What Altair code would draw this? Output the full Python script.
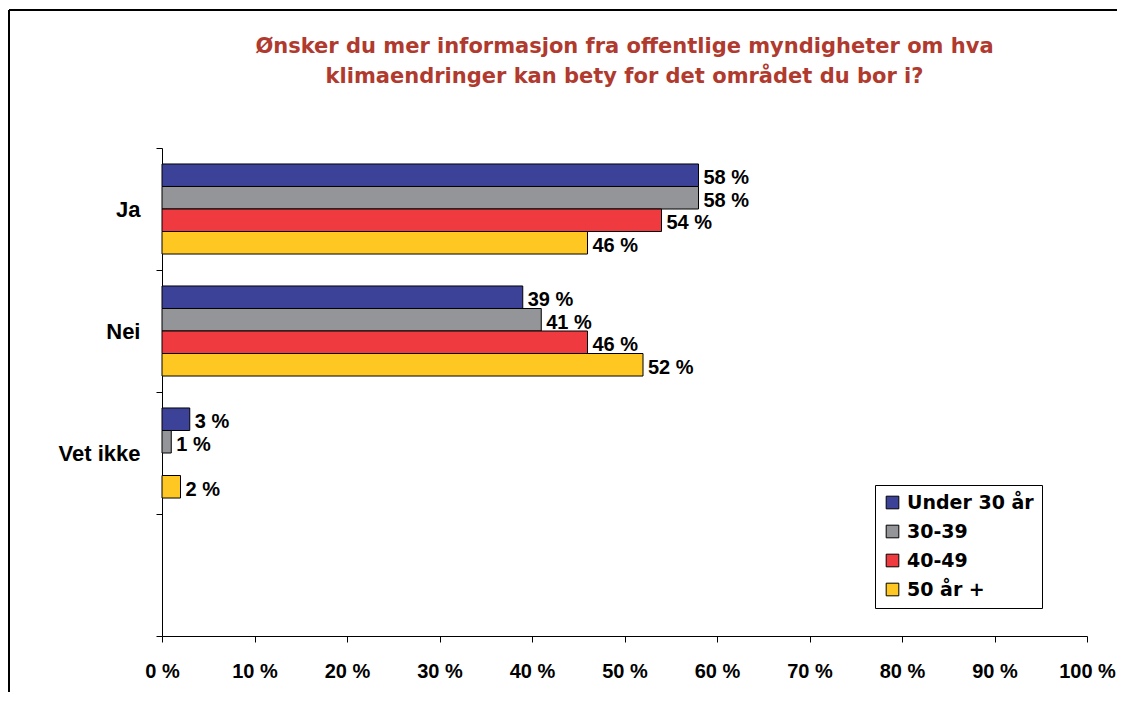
import altair as alt
import pandas as pd

# ---- data ----
categories = ["Ja", "Nei", "Vet ikke"]
axis_slots = ["Ja", "Nei", "Vet ikke", " "]
series = ["Under 30 år", "30-39", "40-49", "50 år +"]
colors = ["#3D4299", "#939598", "#EF3B3F", "#FFC722"]
ja_values = [58, 58, 54, 46]
nei_values = [39, 41, 46, 52]
vetikke_values = [3, 1, None, 2]
x_ticks = list(range(0, 101, 10))

title_lines = [
    "Ønsker du mer informasjon fra offentlige myndigheter om hva",
    "klimaendringer kan bety for det området du bor i?",
]

rows = []
for cat, vals in zip(categories, [ja_values, nei_values, vetikke_values]):
    for s, v in zip(series, vals):
        if v is not None:
            rows.append({"svar": cat, "gruppe": s, "verdi": v, "etikett": f"{v} %"})
df = pd.DataFrame(rows)

FONT = "Liberation Sans"
WIDE = "DejaVu Sans"

y_enc = alt.Y(
    "svar:N",
    scale=alt.Scale(domain=axis_slots, paddingInner=0, paddingOuter=0),
    axis=alt.Axis(
        title=None, tickBand="extent", tickSize=6, labelPadding=16,
        labelFontSize=22, labelFontWeight="bold", labelFont=FONT,
        labelColor="black", domainColor="black", tickColor="black",
    ),
)
yoff_enc = alt.YOffset(
    "gruppe:N",
    scale=alt.Scale(domain=series, paddingInner=0, paddingOuter=0.71),
)
x_enc = alt.X(
    "verdi:Q",
    scale=alt.Scale(domain=[0, 100], nice=False),
    axis=alt.Axis(
        values=x_ticks, labelExpr="datum.value + ' %'", title=None, grid=False,
        labelFlush=False, tickSize=6, labelPadding=19, labelFontSize=20,
        labelFontWeight="bold", labelFont=FONT, labelColor="black",
        domainColor="black", tickColor="black",
    ),
)

bars = alt.Chart(df).mark_bar(stroke="black", strokeWidth=1).encode(
    x=x_enc,
    y=y_enc,
    yOffset=yoff_enc,
    color=alt.Color(
        "gruppe:N",
        scale=alt.Scale(domain=series, range=colors),
        legend=alt.Legend(
            title=None, orient="none", legendX=713, legendY=337,
            fillColor="white", strokeColor="black", padding=8,
            symbolType="square", symbolSize=160, symbolStrokeColor="black",
            symbolStrokeWidth=1, symbolOpacity=1,
            labelFontSize=19, labelFontWeight="bold", labelFont=WIDE,
            labelColor="black", rowPadding=9, labelOffset=5,
        ),
    ),
)

labels = alt.Chart(df).mark_text(
    align="left", baseline="middle", dx=5, dy=3, fontSize=20,
    fontWeight="bold", font=FONT, color="black",
).encode(
    x="verdi:Q",
    y=alt.Y("svar:N"),
    yOffset=alt.YOffset("gruppe:N"),
    text="etikett:N",
)

frame_data = alt.Data(values=[{"k": 1}])
frame_top = alt.Chart(frame_data).mark_rule(color="black", strokeWidth=2).encode(
    x=alt.value(-153), x2=alt.value(1000), y=alt.value(-138)
)
frame_left = alt.Chart(frame_data).mark_rule(color="black", strokeWidth=2).encode(
    x=alt.value(-153), y=alt.value(-138), y2=alt.value(580)
)

chart = alt.layer(bars, labels, frame_top, frame_left).properties(
    width=925,
    height=488,
    autosize=alt.AutoSizeParams(type="none"),
    padding={"left": 154, "top": 140, "right": 30, "bottom": 56},
    title=alt.TitleParams(
        text=title_lines, fontSize=21, font=WIDE, fontWeight="bold",
        color="#B03A2E", anchor="middle", offset=0, dy=78, lineHeight=30,
    ),
).configure_view(stroke=None)

chart.save("out.html", embed_options={"renderer": "svg", "actions": False})
